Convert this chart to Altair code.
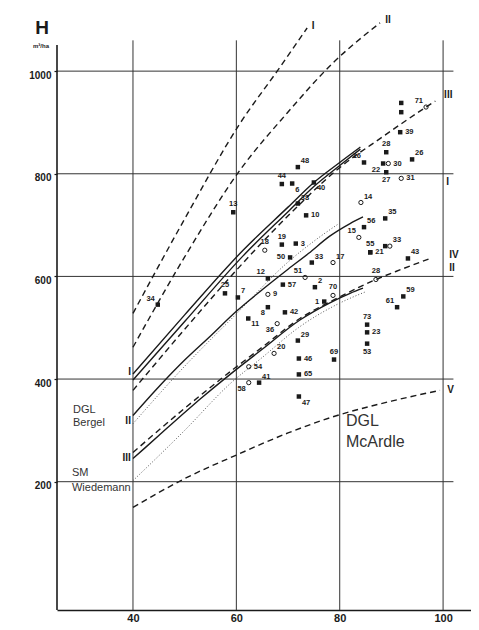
import altair as alt
import pandas as pd

# ---------------- data ----------------
# curves (x = age-like variable, y = H in m3/ha)
dashI_x = [40, 50, 60.7, 67.9, 73.7]
dashI_y = [528, 712, 898, 1000, 1084]
dashII_x = [40, 50, 60.7, 69.8, 78.7, 87.8]
dashII_y = [462, 638, 807, 918, 1016, 1094]
solidI_x = [40, 50, 61.3, 70, 75, 80, 84]
solidI_y = [410, 525, 651, 735, 783, 822, 852]
solidIb_x = [40, 50, 61.3, 70, 75, 80, 84]
solidIb_y = [398, 512, 640, 726, 775, 816, 848]
dashIII_x = [40, 50, 60, 70, 80, 88, 92, 98.5]
dashIII_y = [378, 497, 612, 718, 812, 870, 898, 942]
solidII_x = [40, 45, 50, 55, 60, 65, 70, 74, 78, 82, 84.5]
solidII_y = [329, 385, 437, 484, 532, 574, 614, 645, 678, 703, 716]
dotII_x = [40, 50, 60, 70, 76, 80]
dotII_y = [313, 425, 527, 628, 676, 704]
solidIII_x = [40, 45, 50, 53, 59.4, 65, 72.3, 78, 82, 84.5]
solidIII_y = [245, 290, 335, 361, 414, 458, 515, 548, 567, 577]
dashIV_x = [40, 50, 59.4, 65, 72.3, 80, 87, 92, 97.5]
dashIV_y = [257, 343, 419, 462, 518, 560, 594, 614, 635]
dotSM_x = [40, 50, 58.8, 65, 72, 80, 85]
dotSM_y = [202, 300, 391, 442, 500, 548, 570]
dashV_x = [40, 50, 60.7, 70, 79.5, 90, 99.4]
dashV_y = [150, 206, 255, 295, 329, 357, 378]

# numbered plots
pt_label = ["34", "13", "25", "7", "48", "44", "6", "40", "38", "10", "19", "3", "18", "50",
            "33", "17", "12", "51", "9", "57", "2", "70", "1", "8", "42", "11", "36", "29",
            "20", "54", "46", "69", "65", "41", "58", "47",
            "", "", "71", "39", "28", "26", "16", "22", "30", "27", "31", "14", "35", "56",
            "15", "55", "21", "", "33", "43", "28", "59", "61", "73", "23", "53"]
pt_x = [44.8, 59.4, 57.8, 60.3, 71.9, 68.8, 70.8, 75.0, 71.9, 73.5, 68.8, 71.5, 65.5, 70.4,
        74.6, 78.7, 66.1, 73.3, 66.1, 69.0, 75.2, 78.7, 77.0, 66.1, 69.4, 62.3, 67.9, 71.9,
        67.3, 62.4, 72.1, 78.9, 72.1, 64.4, 62.4, 72.1,
        91.9, 91.9, 96.7, 91.7, 89.0, 94.0, 84.7, 88.4, 89.4, 89.0, 91.9, 84.1, 88.8, 84.7,
        83.7, 85.9, 85.9, 88.8, 89.7, 93.2, 87.0, 92.3, 91.1, 85.3, 85.3, 85.3]
pt_y = [545, 725, 567, 559, 813, 780, 781, 783, 742, 719, 662, 664, 651, 637,
        627, 627, 596, 598, 565, 584, 579, 563, 551, 540, 530, 518, 508, 475,
        450, 424, 440, 438, 409, 393, 393, 366,
        938, 920, 930, 881, 842, 828, 822, 820, 820, 803, 791, 744, 713, 696,
        676, 647, 647, 659, 659, 635, 594, 561, 540, 506, 491, 469]
pt_kind = ["sq", "sq", "sq", "sq", "sq", "sq", "sq", "sq", "sq", "sq", "sq", "sq", "oc", "sq",
           "sq", "oc", "sq", "oc", "oc", "sq", "sq", "oc", "sq", "sq", "sq", "sq", "oc", "sq",
           "oc", "oc", "sq", "sq", "sq", "sq", "oc", "sq",
           "sq", "sq", "oc", "sq", "sq", "sq", "sq", "sq", "oc", "sq", "oc", "oc", "sq", "sq",
           "oc", "sq", "sq", "sq", "oc", "sq", "oc", "sq", "sq", "sq", "sq", "sq"]
pt_pos = ["ul", "a", "a", "ur", "ur", "a", "br", "br", "ur", "r", "a", "r", "a", "l",
          "ur", "ur", "ul", "ul", "r", "r", "ur", "a", "l", "bl", "r", "br", "bl", "ur",
          "ur", "r", "r", "a", "r", "ur", "bl", "br",
          "a", "a", "ul", "r", "a", "ur", "ul", "bl", "r", "b", "r", "ur", "ur", "ur",
          "ul", "a", "r", "a", "ur", "ur", "a", "ur", "ul", "a", "r", "b"]

y_ticks = [200, 400, 600, 800, 1000]
x_ticks = [40, 60, 80, 100]

# ---------------- tables ----------------
curves = [
    ("dI", "dash", dashI_x, dashI_y), ("dII", "dash", dashII_x, dashII_y),
    ("sI", "solid", solidI_x, solidI_y), ("sIb", "solid", solidIb_x, solidIb_y),
    ("dIII", "dash", dashIII_x, dashIII_y), ("sII", "solid", solidII_x, solidII_y),
    ("oII", "dot", dotII_x, dotII_y), ("sIII", "solid", solidIII_x, solidIII_y),
    ("dIV", "dash", dashIV_x, dashIV_y), ("oSM", "dot", dotSM_x, dotSM_y),
    ("dV", "dash", dashV_x, dashV_y),
]
rows = []
for name, style, xs_, ys_ in curves:
    for xv, yv in zip(xs_, ys_):
        rows.append({"curve": name, "style": style, "x": xv, "y": yv})
curve_df = pd.DataFrame(rows)

pts = pd.DataFrame({"label": pt_label, "x": pt_x, "y": pt_y, "kind": pt_kind, "pos": pt_pos})

XMIN, XMAX = 25.3, 105.4
YMIN, YMAX = -50, 1123
xs = alt.Scale(domain=[XMIN, XMAX], nice=False, zero=False)
ys = alt.Scale(domain=[YMIN, YMAX], nice=False, zero=False)
INK = "#1a1a1a"
FONT = "Liberation Sans"

AX = alt.Axis(values=x_ticks, title=None, grid=False, ticks=False, format="d",
              domain=True, domainColor=INK, domainWidth=1.6,
              labelFont=FONT, labelFontSize=11, labelFontWeight="bold",
              labelColor=INK, labelPadding=2)
AY = alt.Axis(values=y_ticks, title=None, grid=False, ticks=True, tickSize=3,
              tickColor=INK, tickWidth=1.2, format="d",
              domain=False, labelFont=FONT, labelFontSize=10,
              labelFontWeight="bold", labelColor=INK,
              labelPadding=3, labelOffset=4)


def X(f="x"):
    return alt.X(f"{f}:Q", scale=xs, axis=AX)


def Y(f="y"):
    return alt.Y(f"{f}:Q", scale=ys, axis=AY)


vgrid = alt.Chart(pd.DataFrame({"x": x_ticks})).mark_rule(color="#333", strokeWidth=1).encode(
    x=X(), y=alt.datum(YMIN), y2=alt.datum(1060))
hgrid = alt.Chart(pd.DataFrame({"y": y_ticks})).mark_rule(color="#333", strokeWidth=1).encode(
    y=Y(), x=alt.datum(XMIN), x2=alt.datum(102))
yaxis_line = alt.Chart(pd.DataFrame({"x": [XMIN]})).mark_rule(color=INK, strokeWidth=1.6).encode(
    x=X(), y=alt.datum(YMIN), y2=alt.datum(1051))

cbase = alt.Chart(curve_df)
solid = cbase.transform_filter(alt.datum.style == "solid").mark_line(
    color=INK, strokeWidth=1.4, interpolate="monotone").encode(x=X(), y=Y(), detail="curve:N")
dashed = cbase.transform_filter(alt.datum.style == "dash").mark_line(
    color=INK, strokeWidth=1.4, strokeDash=[6, 4], interpolate="monotone").encode(x=X(), y=Y(), detail="curve:N")
dotted = cbase.transform_filter(alt.datum.style == "dot").mark_line(
    color="#555", strokeWidth=1, strokeDash=[1, 2], interpolate="monotone").encode(x=X(), y=Y(), detail="curve:N")

pbase = alt.Chart(pts)
squares = pbase.transform_filter(alt.datum.kind == "sq").mark_square(
    size=20, color=INK, opacity=1).encode(x=X(), y=Y())
circles = pbase.transform_filter(alt.datum.kind == "oc").mark_point(
    shape="circle", size=18, filled=False, color=INK, strokeWidth=1, opacity=1).encode(x=X(), y=Y())

offsets = {
    "a": (0, -8, "center"), "b": (0, 8, "center"),
    "ur": (3, -6, "left"), "r": (5, 0, "left"), "br": (3, 6, "left"),
    "ul": (-3, -6, "right"), "l": (-5, 0, "right"), "bl": (-3, 6, "right"),
}
label_layers = []
for key, (dx, dy, al) in offsets.items():
    label_layers.append(
        pbase.transform_filter(alt.datum.pos == key).mark_text(
            dx=dx, dy=dy, align=al, baseline="middle", font=FONT, fontSize=7.5,
            fontWeight="bold", color=INK).encode(x=X(), y=Y(), text="label:N"))


def note(txt, xv, yv, size=11, align="left", weight="normal", color=INK):
    return alt.Chart(pd.DataFrame({"x": [xv], "y": [yv], "t": [txt]})).mark_text(
        align=align, baseline="middle", font=FONT, fontSize=size, fontWeight=weight,
        color=color).encode(x=X(), y=Y(), text="t:N")


notes = [
    note("H", 22.4, 1084, size=19, align="center", weight="bold"),
    note("m³/ha", 22.2, 1049, size=6, align="center", weight="bold"),
    note("I", 74.6, 1088, size=10, align="left", weight="bold"),
    note("II", 88.8, 1100, size=10, align="left", weight="bold"),
    note("III", 100.2, 953, size=10, align="left", weight="bold"),
    note("I", 100.6, 783, size=10, align="left", weight="bold"),
    note("IV", 101.2, 641, size=10, align="left", weight="bold"),
    note("II", 101.2, 616, size=10, align="left", weight="bold"),
    note("V", 100.8, 378, size=10, align="left", weight="bold"),
    note("I", 39.6, 413, size=10, align="right", weight="bold"),
    note("II", 39.6, 319, size=10, align="right", weight="bold"),
    note("III", 39.6, 247, size=10, align="right", weight="bold"),
    note("DGL", 28.4, 339, size=11, color="#333"),
    note("Bergel", 28.4, 315, size=11, color="#333"),
    note("SM", 28.2, 216, size=11, color="#333"),
    note("Wiedemann", 28.2, 188, size=11, color="#333"),
    note("DGL", 81.2, 318, size=16, color="#333"),
    note("McArdle", 81.2, 278, size=16, color="#333"),
]

chart = alt.layer(
    vgrid, hgrid, yaxis_line, dotted, solid, dashed, squares, circles,
    *label_layers, *notes
).properties(
    width=414, height=602,
    background="white",
    autosize=alt.AutoSizeParams(type="none"),
    padding={"left": 49, "top": 0, "right": 0, "bottom": 12},
).configure_view(stroke=None)

chart.save("out.html", embed_options={"renderer": "svg", "actions": False})
